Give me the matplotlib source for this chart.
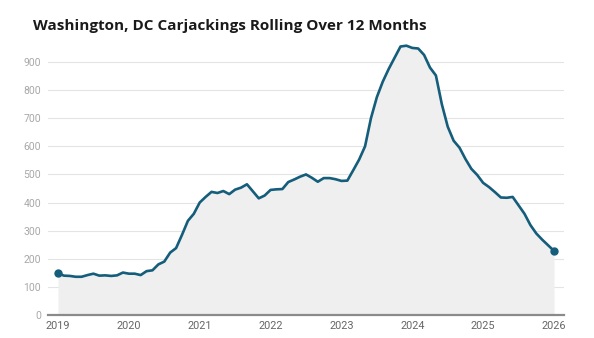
import numpy as np
import matplotlib
matplotlib.use("Agg")
import matplotlib.pyplot as plt

# rolling 12-month carjacking totals, monthly from Jan 2019 to Jan 2026
start_year = 2019
counts = [
    149, 140, 139, 136, 136, 142, 147, 140, 141, 139, 141, 151,   # 2019
    147, 147, 142, 156, 159, 180, 190, 222, 238, 285, 335, 360,   # 2020
    400, 420, 438, 434, 441, 430, 446, 453, 465, 440, 415, 425,   # 2021
    445, 447, 448, 473, 482, 492, 500, 488, 474, 487, 487, 483,   # 2022
    477, 478, 515, 553, 600, 700, 775, 830, 875, 915, 955, 958,   # 2023
    950, 948, 925, 880, 852, 750, 670, 620, 595, 555, 520, 498,   # 2024
    470, 455, 437, 418, 417, 420, 390, 360, 320, 290, 268, 248,   # 2025
    228,                                                          # 2026
]
year_ticks = list(range(2019, 2027))
value_ticks = list(range(0, 1000, 100))

title = "Washington, DC Carjackings Rolling Over 12 Months"

x = start_year + np.arange(len(counts)) / 12
y = np.array(counts)

line_c = "#145d7b"
fill_c = "#efefef"

fig = plt.figure(figsize=(5.94, 3.38), dpi=100)
ax = fig.add_axes([48 / 594, 23 / 338, 516 / 594, 275.5 / 338])

ax.fill_between(x, 0, y, color=fill_c, lw=0, zorder=1)
ax.plot(x, y, color=line_c, lw=1.9, solid_joinstyle="round", zorder=3)
ax.plot([x[0], x[-1]], [y[0], y[-1]], "o", color=line_c, ms=5, zorder=4)

ax.set_xlim(start_year - 10 / 71, 2026 + 10 / 71)
ax.set_ylim(0, 980)
ax.set_xticks(year_ticks)
ax.set_xticklabels([str(t) for t in year_ticks])
ax.set_yticks(value_ticks)

for v in value_ticks[1:]:
    ax.axhline(v, color="#e4e4e4", lw=0.8, zorder=0)
for s in ["top", "right", "left"]:
    ax.spines[s].set_visible(False)
ax.spines["bottom"].set_color("#8a8a8a")
ax.spines["bottom"].set_linewidth(1.6)
ax.spines["bottom"].set_zorder(5)

ax.tick_params(axis="y", length=0, pad=5, labelsize=7.5, labelcolor="#a8a8a8")
ax.tick_params(axis="x", length=0, pad=4, labelsize=7.8, labelcolor="#666666")
for lab in ax.get_xticklabels() + ax.get_yticklabels():
    lab.set_family("Roboto")

fig.text(33 / 594, 1 - 30 / 338, title, fontsize=11, fontweight="bold",
         family="Open Sans", color="#1a1a1a", va="baseline", ha="left")

fig.savefig("out.png", dpi=100)
